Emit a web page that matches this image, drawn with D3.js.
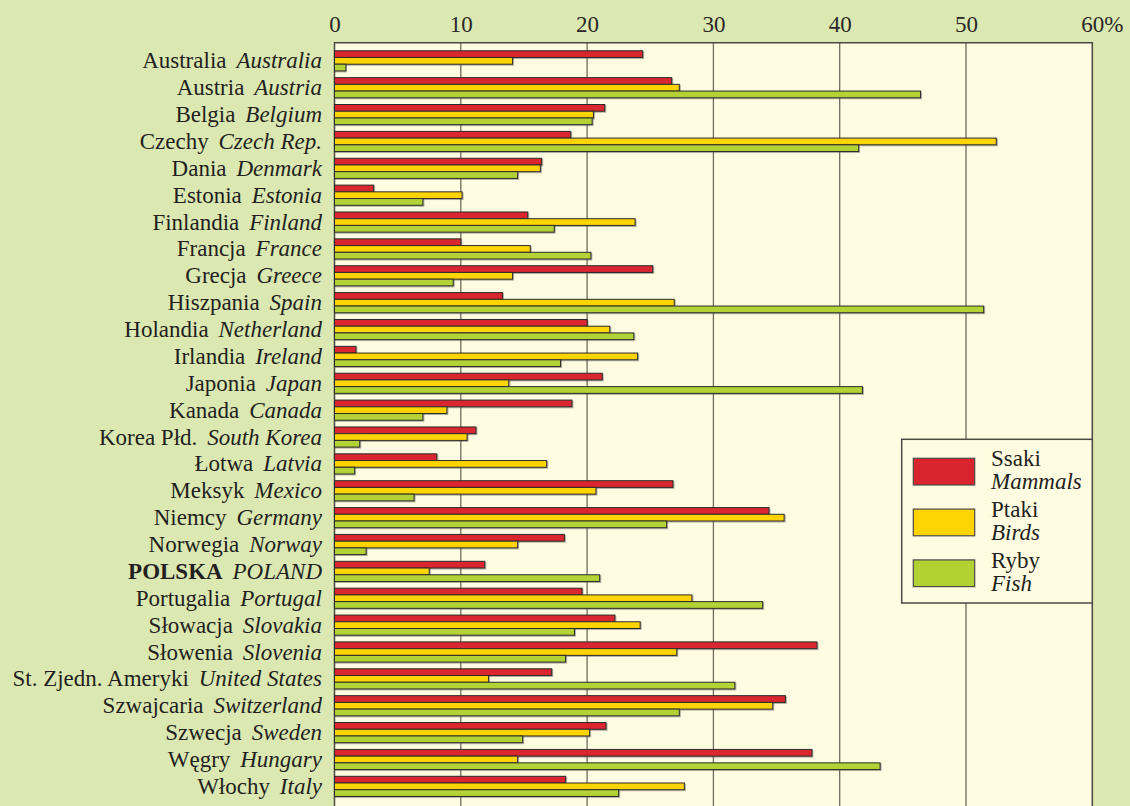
<!DOCTYPE html>
<html>
<head>
<meta charset="utf-8">
<script src="https://cdn.jsdelivr.net/npm/d3@7"></script>
<style>
  body { margin: 0; background: #dbe8b2; }
  svg { display: block; }
  svg text { font-family: "Liberation Serif", "Times New Roman", serif; }
</style>
</head>
<body>
<svg id="chart"></svg>
<script>
// Data
const countriesPl = ["Australia", "Austria", "Belgia", "Czechy", "Dania", "Estonia", "Finlandia", "Francja",
  "Grecja", "Hiszpania", "Holandia", "Irlandia", "Japonia", "Kanada", "Korea Płd.", "Łotwa", "Meksyk",
  "Niemcy", "Norwegia", "POLSKA", "Portugalia", "Słowacja", "Słowenia", "St. Zjedn. Ameryki",
  "Szwajcaria", "Szwecja", "Węgry", "Włochy"];
const countriesEn = ["Australia", "Austria", "Belgium", "Czech Rep.", "Denmark", "Estonia", "Finland", "France",
  "Greece", "Spain", "Netherland", "Ireland", "Japan", "Canada", "South Korea", "Latvia", "Mexico",
  "Germany", "Norway", "POLAND", "Portugal", "Slovakia", "Slovenia", "United States",
  "Switzerland", "Sweden", "Hungary", "Italy"];
const mammals = [24.4, 26.7, 21.4, 18.7, 16.4, 3.1, 15.3, 10.0, 25.2, 13.3, 20.0, 1.7, 21.2, 18.8, 11.2, 8.1, 26.8,
  34.4, 18.2, 11.9, 19.6, 22.2, 38.2, 17.2, 35.7, 21.5, 37.8, 18.3];
const birds = [14.1, 27.3, 20.5, 52.4, 16.3, 10.1, 23.8, 15.5, 14.1, 26.9, 21.8, 24.0, 13.8, 8.9, 10.5, 16.8, 20.7,
  35.6, 14.5, 7.5, 28.3, 24.2, 27.1, 12.2, 34.7, 20.2, 14.5, 27.7];
const fish = [0.9, 46.4, 20.4, 41.5, 14.5, 7.0, 17.4, 20.3, 9.4, 51.4, 23.7, 17.9, 41.8, 7.0, 2.0, 1.6, 6.3,
  26.3, 2.5, 21.0, 33.9, 19.0, 18.3, 31.7, 27.3, 14.9, 43.2, 22.5];
const seriesPl = ["Ssaki", "Ptaki", "Ryby"];
const seriesEn = ["Mammals", "Birds", "Fish"];
const xTicks = [0, 10, 20, 30, 40, 50, 60];

const colors = ["#da252e", "#ffd400", "#b2d234"];
const width = 1130, height = 806;
const serif = "Liberation Serif, Times New Roman, serif";

const svg = d3.select("#chart").attr("width", width).attr("height", height)
  .attr("font-family", serif);

// shadow under bars
const defs = svg.append("defs");
const f = defs.append("filter").attr("id", "shadow").attr("x", "-5%").attr("y", "-30%").attr("width", "110%").attr("height", "160%");
f.append("feDropShadow").attr("dx", 1).attr("dy", 1).attr("stdDeviation", 0.6)
  .attr("flood-color", "#555").attr("flood-opacity", 0.45);

const plotLeft = 334.5, plotRight = 1092.3, plotTop = 42.7, plotBottom = 804.5;

const x = d3.scaleLinear().domain([0, 60]).range([plotLeft, plotRight]);
const y = d3.scaleBand().domain(d3.range(countriesPl.length)).range([plotTop, plotBottom])
  .paddingInner(0.25).paddingOuter(0.3);
const ySub = d3.scaleBand().domain([0, 1, 2]).range([0, y.bandwidth()]);

// plot background
svg.append("rect")
  .attr("x", plotLeft).attr("y", plotTop)
  .attr("width", plotRight - plotLeft).attr("height", height - plotTop + 5)
  .attr("fill", "#fffce1");

// gridlines
svg.append("g").selectAll("line")
  .data(xTicks.slice(1, -1))
  .join("line")
  .attr("x1", d => x(d)).attr("x2", d => x(d))
  .attr("y1", plotTop).attr("y2", height)
  .attr("stroke", "#6e6b5e").attr("stroke-width", 1.3);

// frame
svg.append("path")
  .attr("d", `M${plotLeft},${height}V${plotTop}H${plotRight}V${height}`)
  .attr("fill", "none").attr("stroke", "#4a4a44").attr("stroke-width", 1.5);

// top axis labels
const axis = svg.append("g")
  .attr("transform", `translate(0,${plotTop - 11})`)
  .call(d3.axisTop(x).tickValues(xTicks).tickSize(0).tickPadding(0).tickFormat(d => d));
axis.attr("font-family", serif).attr("font-size", 23);
axis.select(".domain").remove();
axis.selectAll("text").attr("fill", "#2a2826");
axis.selectAll(".tick").filter(d => d === 60).select("text").each(function () {
  const w = this.getComputedTextLength();
  d3.select(this).attr("text-anchor", "start").attr("x", -w / 2).text("60%");
});

// bars
const valueSets = [mammals, birds, fish];
const rows = svg.append("g").selectAll("g")
  .data(countriesPl.map((d, i) => i))
  .join("g")
  .attr("transform", i => `translate(0,${y(i)})`);

rows.selectAll("rect")
  .data(i => valueSets.map((vals, s) => ({ s, v: vals[i] })))
  .join("rect")
  .attr("x", x(0))
  .attr("y", d => ySub(d.s))
  .attr("width", d => x(d.v) - x(0))
  .attr("height", ySub.bandwidth())
  .attr("fill", d => colors[d.s])
  .attr("stroke", "#2b2b2b")
  .attr("stroke-width", 1)
  .attr("filter", "url(#shadow)");

// country labels
const labels = svg.append("g").selectAll("text")
  .data(countriesPl.map((d, i) => i))
  .join("text")
  .attr("x", 322)
  .attr("y", i => y(i) + y.bandwidth() / 2 + 7.5)
  .attr("text-anchor", "end")
  .attr("font-size", 23)
  .attr("fill", "#231f20");
labels.append("tspan")
  .attr("font-weight", i => countriesPl[i] === "POLSKA" ? "bold" : null)
  .text(i => countriesPl[i]);
labels.append("tspan")
  .attr("dx", "0.43em")
  .attr("font-style", "italic")
  .text(i => countriesEn[i]);

// legend
const lg = svg.append("g");
lg.append("rect")
  .attr("x", 901.7).attr("y", 439.3)
  .attr("width", plotRight - 901.7).attr("height", 163.7)
  .attr("fill", "#fffce1").attr("stroke", "#4a4a44").attr("stroke-width", 1.5);
const items = lg.selectAll("g.item")
  .data(seriesPl.map((d, i) => i))
  .join("g")
  .attr("class", "item")
  .attr("transform", i => `translate(0,${458.3 + i * 50.8})`);
items.append("rect")
  .attr("x", 913.3).attr("y", 0)
  .attr("width", 61.4).attr("height", 26.7)
  .attr("fill", i => colors[i])
  .attr("stroke", "#4a4a44").attr("stroke-width", 1.2);
items.append("text")
  .attr("x", 991).attr("y", 8)
  .attr("font-size", 23).attr("fill", "#231f20")
  .text(i => seriesPl[i]);
items.append("text")
  .attr("x", 991).attr("y", 31)
  .attr("font-size", 23).attr("font-style", "italic").attr("fill", "#231f20")
  .text(i => seriesEn[i]);
</script>
</body>
</html>
